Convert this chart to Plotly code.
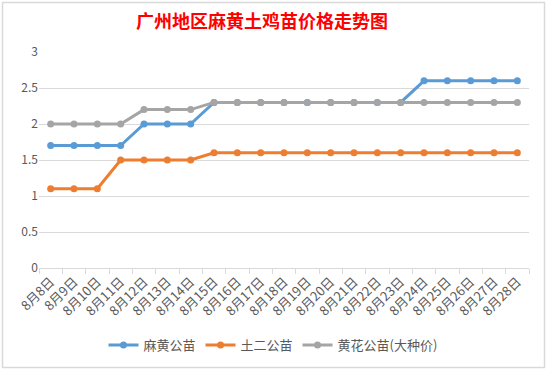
import plotly.graph_objects as go

dates = ["8月8日", "8月9日", "8月10日", "8月11日", "8月12日", "8月13日", "8月14日",
         "8月15日", "8月16日", "8月17日", "8月18日", "8月19日", "8月20日", "8月21日",
         "8月22日", "8月23日", "8月24日", "8月25日", "8月26日", "8月27日", "8月28日"]
mahuang = [1.7, 1.7, 1.7, 1.7, 2.0, 2.0, 2.0, 2.3, 2.3, 2.3, 2.3, 2.3, 2.3, 2.3,
           2.3, 2.3, 2.6, 2.6, 2.6, 2.6, 2.6]
tuer = [1.1, 1.1, 1.1, 1.5, 1.5, 1.5, 1.5, 1.6, 1.6, 1.6, 1.6, 1.6, 1.6, 1.6,
        1.6, 1.6, 1.6, 1.6, 1.6, 1.6, 1.6]
huanghua = [2.0, 2.0, 2.0, 2.0, 2.2, 2.2, 2.2, 2.3, 2.3, 2.3, 2.3, 2.3, 2.3, 2.3,
            2.3, 2.3, 2.3, 2.3, 2.3, 2.3, 2.3]

series = [("麻黄公苗", mahuang, "#5B9BD5"),
          ("土二公苗", tuer, "#ED7D31"),
          ("黄花公苗(大种价)", huanghua, "#A5A5A5")]

fig = go.Figure()
for name, vals, color in series:
    fig.add_trace(go.Scatter(
        x=dates, y=vals, name=name, mode="lines+markers",
        line=dict(color=color, width=3),
        marker=dict(color=color, size=7),
    ))

W, H = 547, 370
L, R, T, B = 39, 18, 52, 102
pw, ph = W - L - R, H - T - B

def px(x):
    return (x - L) / pw

def py(y):
    return (H - B - y) / ph

fig.update_layout(
    width=W, height=H,
    margin=dict(l=L, r=R, t=T, b=B, autoexpand=False),
    paper_bgcolor="white", plot_bgcolor="white",
    font=dict(family="Noto Sans CJK SC, Noto Sans, sans-serif", color="#595959"),
    title=dict(text="广州地区麻黄土鸡苗价格走势图", x=px(262), xref="paper", xanchor="center",
               y=1 - 22 / H, yanchor="middle",
               font=dict(size=18, color="#FF0000", family="Noto Sans CJK SC", weight=700)),
    showlegend=True,
    legend=dict(orientation="h", x=px(273), xanchor="center", y=py(345), yanchor="middle",
                font=dict(size=13, color="#595959"), itemwidth=30, tracegroupgap=0),
    xaxis=dict(type="category", tickangle=-45, showgrid=False, automargin=False,
               showline=True, linecolor="#D9D9D9", linewidth=1,
               ticks="outside", tickson="boundaries", ticklen=5, tickcolor="#D9D9D9",
               tickfont=dict(size=13, color="#595959"), range=[-0.5, 20.5]),
    yaxis=dict(range=[0, 3], dtick=0.5, showgrid=True, gridcolor="#D9D9D9", gridwidth=1,
               zeroline=False, showline=False, ticks="", automargin=False,
               tickfont=dict(size=12, color="#595959")),
    shapes=[dict(type="rect", xref="paper", yref="paper",
                 x0=px(2.5), x1=px(544.5), y0=py(367.5), y1=py(2.5),
                 line=dict(color="#D9D9D9", width=1.5), layer="below")],
)

fig.write_html("out.html", config={"displayModeBar": False},
               post_script="document.body.style.margin='0';document.body.style.overflow='hidden';")
